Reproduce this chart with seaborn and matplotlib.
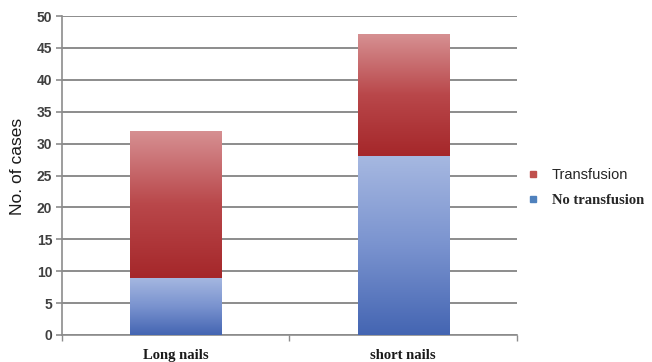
import numpy as np
import pandas as pd
import matplotlib
matplotlib.use("Agg")
import matplotlib.pyplot as plt
import seaborn as sns
from matplotlib.colors import LinearSegmentedColormap
from matplotlib.lines import Line2D

categories = ["Long nails", "short nails"]
no_transfusion = [9, 28]
transfusion = [23, 19]
series = ["Transfusion", "No transfusion"]
yticks = list(range(0, 55, 5))

totals = [a + b for a, b in zip(no_transfusion, transfusion)]
df = pd.DataFrame({"cat": categories, "total": totals, "no": no_transfusion})

sns.set_style("white")
plt.rcParams["font.family"] = ["Liberation Sans", "DejaVu Sans"]

fig = plt.figure(figsize=(6.52, 3.62), dpi=100)
ax = fig.add_axes([0.095, 0.0746, 0.698, 0.881])

sns.barplot(data=df, x="cat", y="total", color="#C0504D", width=0.4, ax=ax,
            zorder=2, linewidth=0)
sns.barplot(data=df, x="cat", y="no", color="#4F81BD", width=0.4, ax=ax,
            zorder=3, linewidth=0)

red_cmap = LinearSegmentedColormap.from_list("r", ["#A5272A", "#B9474A", "#D69092"])
blue_cmap = LinearSegmentedColormap.from_list("b", ["#4465B2", "#7A93CF", "#A6B8E1"])
grad = np.linspace(0, 1, 256).reshape(-1, 1)

n = len(categories)
red_patches = ax.patches[:n]
blue_patches = ax.patches[n:2 * n]
for rp, bp in zip(red_patches, blue_patches):
    x0, w = bp.get_x(), bp.get_width()
    ax.imshow(grad, origin="lower", cmap=blue_cmap, aspect="auto",
              extent=[x0, x0 + w, bp.get_y(), bp.get_y() + bp.get_height()],
              zorder=4, interpolation="bilinear")
    ax.imshow(grad, origin="lower", cmap=red_cmap, aspect="auto",
              extent=[x0, x0 + w, bp.get_y() + bp.get_height(), rp.get_y() + rp.get_height()],
              zorder=4, interpolation="bilinear")

ax.set_xlim(-0.5, n - 0.5)
ax.set_ylim(0, 50)
ax.set_yticks(yticks)
ax.set_yticklabels([str(t) for t in yticks], fontsize=10, fontweight="bold", color="#404040")
ax.set_axisbelow(True)
ax.yaxis.grid(True, color="#8C8C8C", linewidth=1.4)
ax.xaxis.grid(False)

for s in ["top", "right"]:
    ax.spines[s].set_visible(False)
for s in ["left", "bottom"]:
    ax.spines[s].set_color("#8C8C8C")
    ax.spines[s].set_linewidth(1.2)

ax.tick_params(axis="y", which="major", length=4, color="#8C8C8C", width=1.2, pad=3, left=True)
ax.tick_params(axis="x", which="major", length=0, pad=10)
ax.set_xticks(np.arange(-0.5, n, 1.0), minor=True)
ax.tick_params(axis="x", which="minor", length=4, color="#8C8C8C", width=1.0, bottom=True)
ax.set_xticks(range(n))
ax.set_xticklabels(categories, fontsize=10.5, fontweight="bold",
                   family=["Liberation Serif", "DejaVu Serif"], color="#1a1a1a")

ax.set_xlabel("")
ax.set_ylabel("No. of cases", fontsize=12.5, color="#1a1a1a")
ax.yaxis.set_label_coords(-0.082, 0.527)

handles = [Line2D([], [], marker="s", linestyle="none", markersize=5,
                  markerfacecolor="#C0504D", markeredgecolor="#C0504D"),
           Line2D([], [], marker="s", linestyle="none", markersize=5,
                  markerfacecolor="#4F81BD", markeredgecolor="#4F81BD")]
leg = fig.legend(handles, series, loc="center left", bbox_to_anchor=(0.79, 0.482),
                 frameon=False, fontsize=10.5, labelspacing=0.85, handlelength=0.6,
                 handletextpad=1.0)
leg.get_texts()[1].set_fontfamily(["Liberation Serif", "DejaVu Serif"])
leg.get_texts()[1].set_fontweight("bold")
leg.get_texts()[1].set_color("#262626")

fig.savefig("out.png", dpi=100)
